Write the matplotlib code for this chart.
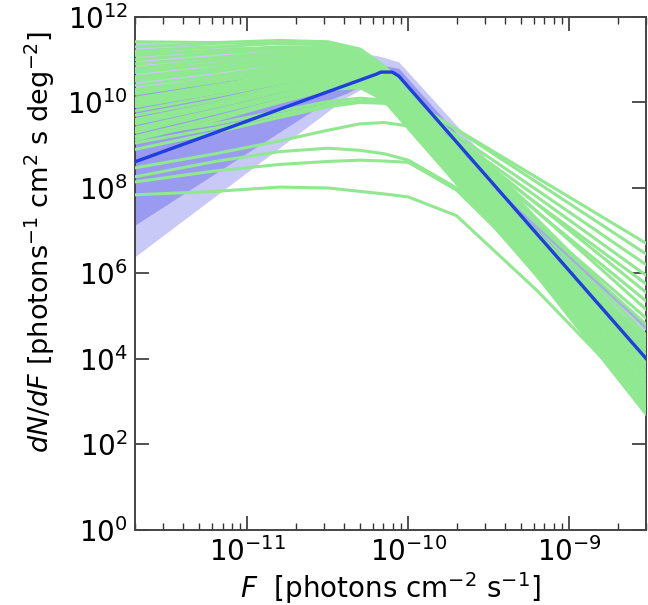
import numpy as np
import matplotlib
matplotlib.use("Agg")
import matplotlib.pyplot as plt
from matplotlib.ticker import NullLocator, NullFormatter, LogLocator, FixedLocator

# ---------------- data (log10 values) ----------------
# common flux nodes for the green sample curves (log10 F)
green_logF = [-11.70, -11.20, -10.80, -10.50, -10.30, -10.15, -10.00, -9.70, -9.20, -8.52]

# green posterior samples (log10 dN/dF at the nodes above)
g01 = [11.42, 11.40, 11.45, 11.42, 11.25, 10.85, 10.30, 9.16, 7.27, 4.70]
g02 = [11.30, 11.38, 11.42, 11.38, 11.18, 10.65, 10.05, 9.37, 8.24, 6.70]
g03 = [11.20, 11.30, 11.38, 11.35, 11.15, 10.80, 10.25, 9.10, 7.17, 4.55]
g04 = [11.10, 11.22, 11.30, 11.30, 11.12, 10.78, 10.25, 9.06, 7.09, 4.40]
g05 = [11.00, 11.15, 11.25, 11.25, 11.05, 10.55, 10.00, 9.23, 7.95, 6.20]
g06 = [10.90, 11.05, 11.18, 11.20, 11.00, 10.65, 10.10, 8.92, 6.96, 4.30]
g07 = [10.80, 10.98, 11.12, 11.15, 10.98, 10.65, 10.10, 8.90, 6.91, 4.20]
g08 = [10.70, 10.90, 11.05, 11.10, 10.95, 10.58, 10.05, 9.14, 7.62, 5.55]
g09 = [10.60, 10.80, 10.98, 11.05, 10.92, 10.58, 10.00, 8.80, 6.81, 4.10]
g10 = [10.50, 10.72, 10.92, 11.00, 10.88, 10.55, 9.95, 8.74, 6.73, 4.00]
g11 = [10.40, 10.62, 10.85, 10.95, 10.85, 10.50, 9.90, 8.68, 6.66, 3.90]
g12 = [10.30, 10.55, 10.78, 10.90, 10.80, 10.45, 9.85, 8.62, 6.58, 3.80]
g13 = [10.20, 10.48, 10.72, 10.85, 10.75, 10.40, 9.80, 8.56, 6.50, 3.70]
g14 = [10.10, 10.40, 10.65, 10.80, 10.70, 10.35, 9.75, 8.50, 6.43, 3.60]
g15 = [10.00, 10.30, 10.58, 10.75, 10.68, 10.35, 9.85, 8.83, 7.12, 4.80]
g16 = [9.90, 10.22, 10.50, 10.70, 10.62, 10.30, 9.70, 8.44, 6.35, 3.50]
g17 = [9.80, 10.15, 10.45, 10.65, 10.60, 10.30, 9.85, 9.02, 7.63, 5.75]
g18 = [9.70, 10.05, 10.38, 10.60, 10.55, 10.22, 9.65, 8.38, 6.27, 3.40]
g19 = [9.60, 9.98, 10.32, 10.55, 10.52, 10.20, 9.60, 8.32, 6.19, 3.30]
g20 = [9.50, 9.90, 10.25, 10.50, 10.48, 10.18, 9.55, 8.26, 6.12, 3.20]
g21 = [9.40, 9.82, 10.18, 10.45, 10.45, 10.15, 9.50, 8.20, 6.04, 3.10]
g22 = [9.30, 9.75, 10.12, 10.40, 10.40, 10.10, 9.45, 8.15, 5.99, 3.05]
g23 = [9.20, 9.65, 10.05, 10.35, 10.38, 10.05, 9.40, 8.10, 5.94, 3.00]
g24 = [9.12, 9.58, 10.00, 10.30, 10.35, 10.05, 9.40, 8.13, 6.02, 3.15]
g25 = [10.55, 10.78, 10.95, 11.00, 10.85, 10.55, 10.10, 9.36, 8.13, 6.45]
g26 = [10.25, 10.50, 10.75, 10.88, 10.80, 10.45, 9.95, 9.14, 7.79, 5.95]
g27 = [9.95, 10.25, 10.55, 10.72, 10.68, 10.40, 9.90, 8.98, 7.44, 5.35]
g28 = [11.15, 11.20, 11.28, 11.25, 11.05, 10.70, 10.15, 9.14, 7.45, 5.15]
g29 = [10.75, 10.88, 11.02, 11.05, 10.90, 10.55, 9.95, 8.71, 6.65, 3.85]
g30 = [9.55, 9.95, 10.30, 10.52, 10.50, 10.25, 9.75, 8.78, 7.16, 4.95]
g31 = [10.05, 10.35, 10.62, 10.78, 10.70, 10.38, 9.78, 8.60, 6.63, 3.95]
g32 = [9.35, 9.78, 10.15, 10.42, 10.42, 10.12, 9.50, 8.49, 6.80, 4.50]
e01 = [9.05, 9.40, 9.72, 9.95, 10.03, 10.00, 9.75, 8.32, 5.94, 2.70]
e02 = [9.20, 9.50, 9.80, 10.02, 10.10, 10.05, 9.82, 8.40, 6.03, 2.80]
e03 = [8.90, 9.30, 9.65, 9.90, 10.00, 9.98, 9.80, 8.40, 6.07, 2.90]
low_a = [7.84, 7.92, 8.02, 8.00, 7.92, 7.86, 7.79, 7.35, 5.60, 2.95]
low_b = [8.26, 8.62, 8.85, 8.93, 8.88, 8.80, 8.65, 8.00, 6.20, 3.30]
low_c = [8.14, 8.40, 8.55, 8.62, 8.65, 8.63, 8.60, 7.95, 6.10, 3.20]
low_d = [8.47, 8.80, 9.10, 9.35, 9.50, 9.53, 9.45, 8.60, 6.50, 3.60]

green_samples = [g01, g02, g03, g04, g05, g06, g07, g08, g09, g10, g11, g12, g13,
                 g14, g15, g16, g17, g18, g19, g20, g21, g22, g23, g24, g25, g26,
                 g27, g28, g29, g30, g31, g32, e01, e02, e03,
                 low_a, low_b, low_c, low_d]

# best-fit broken power law (log10 values)
blue_logF = [-11.70, -10.20, -10.17, -10.10, -10.06, -8.52]
blue_logdn = [8.61, 10.66, 10.71, 10.71, 10.62, 4.00]

# uncertainty bands (log10 values)
band_logF = [-11.70, -10.49, -10.38, -10.20, -10.15, -10.06, -9.60, -9.03, -8.52]
band95_lo = [6.39, 9.82, 10.13, 10.50, 10.56, 10.45, 8.45, 6.00, 3.40]
band95_hi = [11.42, 11.22, 11.18, 11.10, 11.05, 10.95, 9.05, 6.55, 4.72]
band68_lo = [7.13, 10.06, 10.22, 10.58, 10.62, 10.52, 8.52, 6.10, 3.70]
band68_hi = [10.30, 10.75, 10.80, 10.86, 10.86, 10.80, 8.85, 6.35, 4.35]

# faint upper-edge line visible over the green at high flux
edge_logF = [-9.45, -8.52]
edge_logdn = [7.95, 4.72]

xlim = (2.0e-12, 3.0e-9)
ylim = (1e0, 1e12)
xticks = [1e-11, 1e-10, 1e-9]
yticks = [1e0, 1e2, 1e4, 1e6, 1e8, 1e10, 1e12]

# ---------------- plotting ----------------
plt.rcParams['font.family'] = ['DejaVu Sans']
plt.rcParams['mathtext.fontset'] = 'dejavusans'

fig = plt.figure(figsize=(6.48, 6.05), dpi=100)
ax = fig.add_axes([0.2083, 0.124, 0.7886, 0.848])

bF = 10.0 ** np.array(band_logF)
ax.fill_between(bF, 10.0 ** np.array(band95_lo), 10.0 ** np.array(band95_hi),
                color='#c9c9f8', lw=0, zorder=1)
ax.fill_between(bF, 10.0 ** np.array(band68_lo), 10.0 ** np.array(band68_hi),
                color='#9a9af0', lw=0, zorder=2)

gF = 10.0 ** np.array(green_logF)
for s in green_samples:
    ax.plot(gF, 10.0 ** np.array(s), color='#90e890', lw=2.2, zorder=3,
            solid_joinstyle='round')

ax.plot(10.0 ** np.array(edge_logF), 10.0 ** np.array(edge_logdn),
        color='#a8a4f4', lw=1.5, alpha=0.9, zorder=4)

ax.plot(10.0 ** np.array(blue_logF), 10.0 ** np.array(blue_logdn),
        color='#1f3fe0', lw=2.4, zorder=5, solid_joinstyle='round')

ax.set_xscale('log')
ax.set_yscale('log')
ax.set_xlim(*xlim)
ax.set_ylim(*ylim)
ax.xaxis.set_major_locator(FixedLocator(xticks))
ax.xaxis.set_minor_locator(LogLocator(base=10, subs=np.arange(2, 10)))
ax.xaxis.set_minor_formatter(NullFormatter())
ax.yaxis.set_major_locator(FixedLocator(yticks))
ax.yaxis.set_minor_locator(NullLocator())

ax.tick_params(which='both', direction='in', top=True, right=True,
               color='#333333', labelsize=20, pad=5)
ax.tick_params(which='major', length=10, width=1.2)
ax.tick_params(which='minor', length=5, width=1.0)
for sp in ax.spines.values():
    sp.set_color('#444444')
    sp.set_linewidth(1.4)

ax.set_xlabel(r'$F$  [photons cm$^{-2}$ s$^{-1}$]', fontsize=20, labelpad=2)
ax.set_ylabel(r'$dN/dF$ [photons$^{-1}$ cm$^{2}$ s deg$^{-2}$]', fontsize=19.5)
ax.yaxis.set_label_coords(-0.152, 0.561)

fig.savefig('out.png', dpi=100)
